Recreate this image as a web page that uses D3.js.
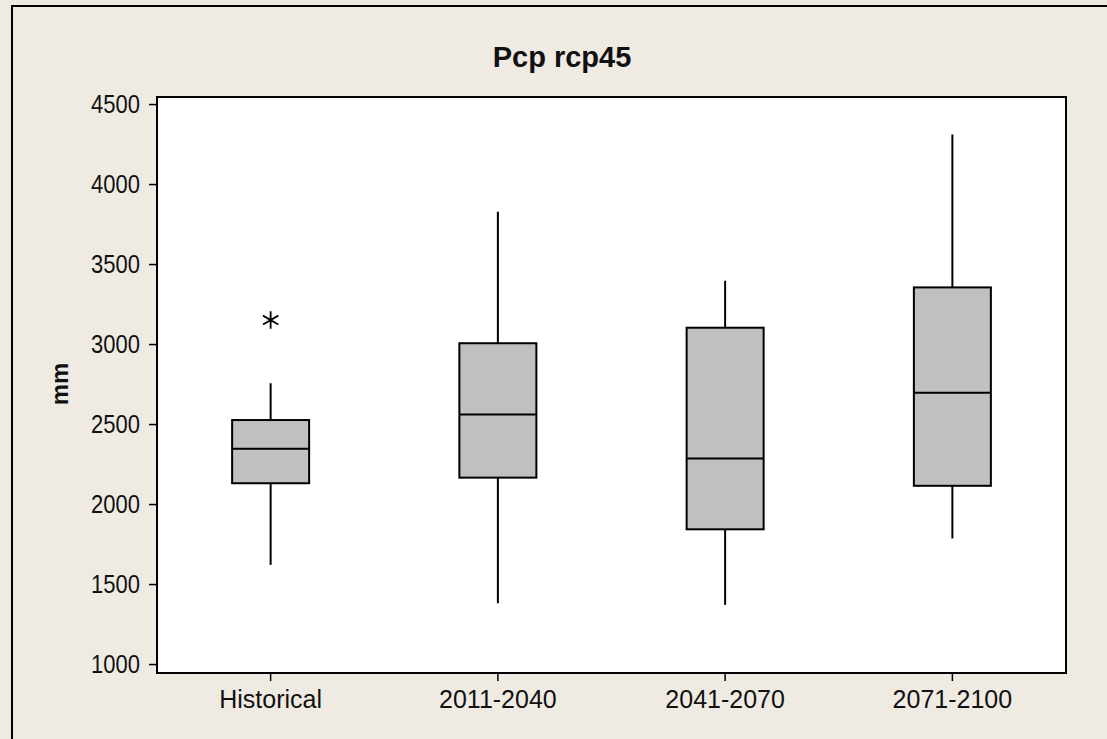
<!DOCTYPE html>
<html>
<head>
<meta charset="utf-8">
<script src="https://cdn.jsdelivr.net/npm/d3@7"></script>
<style>
  body { margin: 0; background: #efebe2; }
  text { font-family: "Liberation Sans", Arial, sans-serif; fill: #111; }
</style>
</head>
<body>
<div id="chart"></div>
<script>
 //Data
 var periods = ["Historical", "2011-2040", "2041-2070", "2071-2100"];
 var whiskerLow = [1620, 1380, 1370, 1785];
 var q1 = [2130, 2165, 1842, 2114];
 var median = [2345, 2560, 2285, 2696];
 var q3 = [2525, 3005, 3102, 3354];
 var whiskerHigh = [2755, 3827, 3396, 4310];
 var outliers = [{ period: "Historical", value: 3150 }];
 var yTicks = [1000, 1500, 2000, 2500, 3000, 3500, 4000, 4500];
 var yDomain = [944, 4544];

 //Dimensions
 var W = 1107, H = 739;
 var margin = { top: 97, right: 41, bottom: 66, left: 157 },
     width = W - margin.left - margin.right,
     height = H - margin.top - margin.bottom;

 var root = d3.select("#chart")
     .append("svg")
     .attr("width", W)
     .attr("height", H);

 //Outer frame
 root.append("rect")
     .attr("x", 12).attr("y", 6)
     .attr("width", W + 20).attr("height", H + 20)
     .attr("fill", "#efebe2")
     .attr("stroke", "#000")
     .attr("stroke-width", 2);

 var svg = root.append("g")
     .attr("transform", "translate(" + margin.left + "," + margin.top + ")");

 //Plot area
 svg.append("rect")
     .attr("width", width)
     .attr("height", height)
     .attr("fill", "#fff");

 var x = d3.scaleBand()
     .domain(periods)
     .range([0, width]);

 var y = d3.scaleLinear()
     .domain(yDomain)
     .range([height, 0]);

 //Axes
 var yAxis = svg.append("g")
     .call(d3.axisLeft(y).tickValues(yTicks).tickFormat(d3.format("d")).tickSize(8).tickPadding(9));
 yAxis.select(".domain").remove();
 yAxis.selectAll("line").attr("stroke", "#000").attr("stroke-width", 1.5);
 yAxis.selectAll("text")
     .style("font-size", "22px")
     .attr("transform", "scale(1,1.15)")
     .attr("fill", "#111");

 var xAxis = svg.append("g")
     .attr("transform", "translate(0," + height + ")")
     .call(d3.axisBottom(x).tickSize(8).tickPadding(9));
 xAxis.select(".domain").remove();
 xAxis.selectAll("line").attr("stroke", "#000").attr("stroke-width", 1.5);
 xAxis.selectAll("text").style("font-size", "25px").attr("fill", "#111");

 //Boxes
 var boxW = 77;
 var boxes = svg.selectAll(".box")
     .data(periods)
     .enter()
     .append("g")
     .attr("class", "box")
     .attr("transform", function (d) { return "translate(" + (x(d) + x.bandwidth() / 2) + ",0)"; });

 boxes.append("line")
     .attr("y1", function (d, i) { return y(whiskerHigh[i]); })
     .attr("y2", function (d, i) { return y(q3[i]); })
     .attr("stroke", "#000").attr("stroke-width", 2);

 boxes.append("line")
     .attr("y1", function (d, i) { return y(q1[i]); })
     .attr("y2", function (d, i) { return y(whiskerLow[i]); })
     .attr("stroke", "#000").attr("stroke-width", 2);

 boxes.append("rect")
     .attr("x", -boxW / 2)
     .attr("y", function (d, i) { return y(q3[i]); })
     .attr("width", boxW)
     .attr("height", function (d, i) { return y(q1[i]) - y(q3[i]); })
     .attr("fill", "#c0c0c0")
     .attr("stroke", "#000")
     .attr("stroke-width", 2);

 boxes.append("line")
     .attr("x1", -boxW / 2).attr("x2", boxW / 2)
     .attr("y1", function (d, i) { return y(median[i]); })
     .attr("y2", function (d, i) { return y(median[i]); })
     .attr("stroke", "#000").attr("stroke-width", 2);

 //Outliers
 svg.selectAll(".outlier")
     .data(outliers)
     .enter()
     .append("path")
     .attr("class", "outlier")
     .attr("transform", function (d) { return "translate(" + (x(d.period) + x.bandwidth() / 2) + "," + y(d.value) + ")"; })
     .attr("d", d3.symbol().type(d3.symbolAsterisk).size(220))
     .attr("fill", "none")
     .attr("stroke", "#000")
     .attr("stroke-width", 1.8);

 //Plot border
 svg.append("rect")
     .attr("width", width)
     .attr("height", height)
     .attr("fill", "none")
     .attr("stroke", "#000")
     .attr("stroke-width", 2);

 //Title
 root.append("text")
     .attr("x", 562)
     .attr("y", 67)
     .attr("text-anchor", "middle")
     .style("font-size", "29px")
     .style("font-weight", "bold")
     .text("Pcp rcp45");

 //Y label
 root.append("text")
     .attr("transform", "translate(68," + (margin.top + height / 2 - 1) + ") rotate(-90)")
     .attr("text-anchor", "middle")
     .style("font-size", "24px")
     .style("font-weight", "bold")
     .text("mm");
</script>
</body>
</html>
